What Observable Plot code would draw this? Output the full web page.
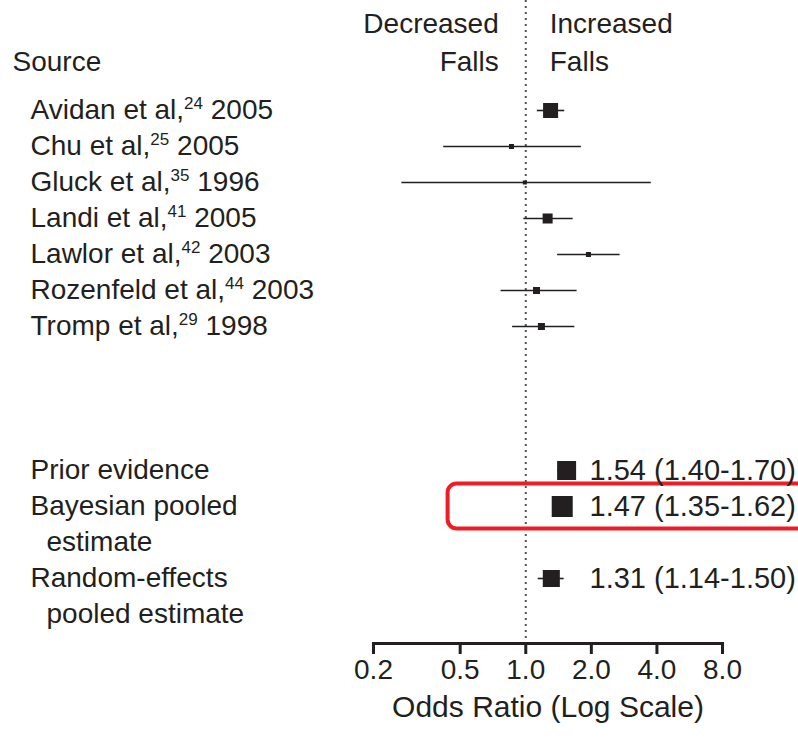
<!DOCTYPE html>
<html><head><meta charset="utf-8">
<script src="https://cdn.jsdelivr.net/npm/d3@7"></script>
<script src="https://cdn.jsdelivr.net/npm/@observablehq/plot@0.6"></script>
<style>
html,body{margin:0;padding:0;background:#fff;overflow:hidden;width:798px;height:738px}
</style></head><body><div id="chart"></div>
<script>
// ---- data ----
const studyNames = ["Avidan et al,", "Chu et al,", "Gluck et al,", "Landi et al,", "Lawlor et al,", "Rozenfeld et al,", "Tromp et al,"];
const studyRefs = ["24", "25", "35", "41", "42", "44", "29"];
const studyYears = ["2005", "2005", "1996", "2005", "2003", "2003", "1998"];
const studyOR = [1.30, 0.86, 0.99, 1.26, 1.94, 1.12, 1.18];
const studyLo = [1.13, 0.42, 0.27, 0.98, 1.40, 0.77, 0.87];
const studyHi = [1.51, 1.80, 3.77, 1.65, 2.71, 1.72, 1.68];
const studyWeight = [22.5, 2.5, 1.6, 10, 2.5, 4.9, 4.9];

const pooledLabels = ["Prior evidence", "Bayesian pooled", "Random-effects"];
const pooledSubLabels = ["", "estimate", "pooled estimate"];
const pooledOR = [1.54, 1.47, 1.31];
const pooledLo = [1.40, 1.35, 1.14];
const pooledHi = [1.70, 1.62, 1.50];
const pooledWeight = [36, 44, 29];
const highlightedLabel = "Bayesian pooled";
const highlightRange = [0.44, 30];

const xTicks = [0.2, 0.5, 1, 2, 4, 8];
const xTickLabels = ["0.2", "0.5", "1.0", "2.0", "4.0", "8.0"];
const xTitle = "Odds Ratio (Log Scale)";
const sourceHeader = "Source";
const leftHeader = "Decreased\nFalls";
const rightHeader = "Increased\nFalls";
const gapRows = ["gap1", "gap2", "gap3"];

// ---- tables built from the arrays ----
const studies = studyNames.map((n, i) => ({
  key: n, label: `${n}${studyRefs[i]} ${studyYears[i]}`,
  or: studyOR[i], lo: studyLo[i], hi: studyHi[i], w: studyWeight[i]
}));
const pooled = pooledLabels.map((n, i) => ({
  key: n, label: n, sub: pooledSubLabels[i], subKey: n + "#2",
  or: pooledOR[i], lo: pooledLo[i], hi: pooledHi[i], w: pooledWeight[i],
  value: `${pooledOR[i].toFixed(2)} (${pooledLo[i].toFixed(2)}-${pooledHi[i].toFixed(2)})`
}));
const rowKeys = [...studyNames, ...gapRows];
pooled.forEach(p => { rowKeys.push(p.key); if (p.sub) rowKeys.push(p.subKey); });
const estimates = [...studies, ...pooled];
const subRows = pooled.filter(p => p.sub);
const highlight = pooled.filter(p => p.label === highlightedLabel);
const ticks = xTicks.map((v, i) => ({v, label: xTickLabels[i]}));

const FONT = "'Liberation Sans Narrow', 'Arial Narrow', 'Liberation Sans', sans-serif";
const FS = 28;
const INK = "#231f20";

const plot = Plot.plot({
  width: 798, height: 738,
  marginLeft: 373, marginRight: 76, marginTop: 0, marginBottom: 95,
  style: {fontFamily: FONT, fontSize: FS + "px", color: INK, background: "#fff"},
  x: {type: "log", domain: [0.2, 8], axis: null},
  y: {type: "point", domain: rowKeys, range: [108, 615], padding: 0, axis: null},
  r: {type: "sqrt", domain: [0, 44], range: [0, 11.85]},
  marks: [
    Plot.ruleX([1], {stroke: "#555", strokeWidth: 2, strokeDasharray: "2,4"}),
    Plot.rect(highlight, {x1: () => highlightRange[0], x2: () => highlightRange[1], y1: "key", y2: "key",
      insetTop: -22.5, insetBottom: -22.5, rx: 9, fill: "none", stroke: "#ee1c25", strokeWidth: 4}),
    Plot.ruleY(estimates, {y: "key", x1: "lo", x2: "hi", stroke: INK, strokeWidth: 1.6}),
    Plot.dot(estimates, {x: "or", y: "key", r: "w", symbol: "square", fill: INK, stroke: null}),
    Plot.text(studies, {y: "key", text: "label", frameAnchor: "left", textAnchor: "start", dx: -343, fontSize: FS, fill: INK}),
    Plot.text(pooled, {y: "key", text: "label", frameAnchor: "left", textAnchor: "start", dx: -343, fontSize: FS, fill: INK}),
    Plot.text(subRows, {y: "subKey", text: "sub", frameAnchor: "left", textAnchor: "start", dx: -327, fontSize: FS, fill: INK}),
    Plot.text(pooled, {y: "key", text: "value", frameAnchor: "left", textAnchor: "start", dx: 216, fontSize: 29, fill: INK}),
    Plot.text([sourceHeader], {text: d => d, frameAnchor: "top-left", textAnchor: "start", lineAnchor: "top", dx: -361, dy: 51, fontSize: FS, fill: INK}),
    Plot.text([leftHeader], {x: () => 1, text: d => d, frameAnchor: "top", textAnchor: "end", lineAnchor: "top", lineHeight: 1.36, dx: -27, dy: 5, fontSize: FS, fill: INK}),
    Plot.text([rightHeader], {x: () => 1, text: d => d, frameAnchor: "top", textAnchor: "start", lineAnchor: "top", lineHeight: 1.36, dx: 24, dy: 5, fontSize: FS, fill: INK}),
    Plot.frame({anchor: "bottom", stroke: INK, strokeWidth: 3}),
    Plot.axisX({ticks: xTicks, tickFormat: () => "", tickSize: 11, strokeWidth: 3, label: null, stroke: INK}),
    Plot.text(ticks, {x: "v", text: "label", frameAnchor: "bottom", lineAnchor: "top", dy: 16, fontSize: FS, fill: INK}),
    Plot.text([xTitle], {text: d => d, frameAnchor: "bottom", lineAnchor: "top", dy: 52, fontSize: 30, fill: INK})
  ]
});
document.getElementById("chart").appendChild(plot);

// superscript reference numbers in study labels
const parts = new Map(studies.map((s, i) => [s.label, [studyNames[i], studyRefs[i], " " + studyYears[i]]]));
plot.querySelectorAll("text").forEach(t => {
  const p = parts.get(t.textContent);
  if (!p) return;
  t.textContent = "";
  const ns = "http://www.w3.org/2000/svg";
  const a = document.createElementNS(ns, "tspan"); a.textContent = p[0];
  const b = document.createElementNS(ns, "tspan"); b.textContent = p[1];
  b.setAttribute("font-size", "17"); b.setAttribute("dy", "-10");
  const c = document.createElementNS(ns, "tspan"); c.textContent = p[2]; c.setAttribute("dy", "10");
  t.append(a, b, c);
});
</script></body></html>
